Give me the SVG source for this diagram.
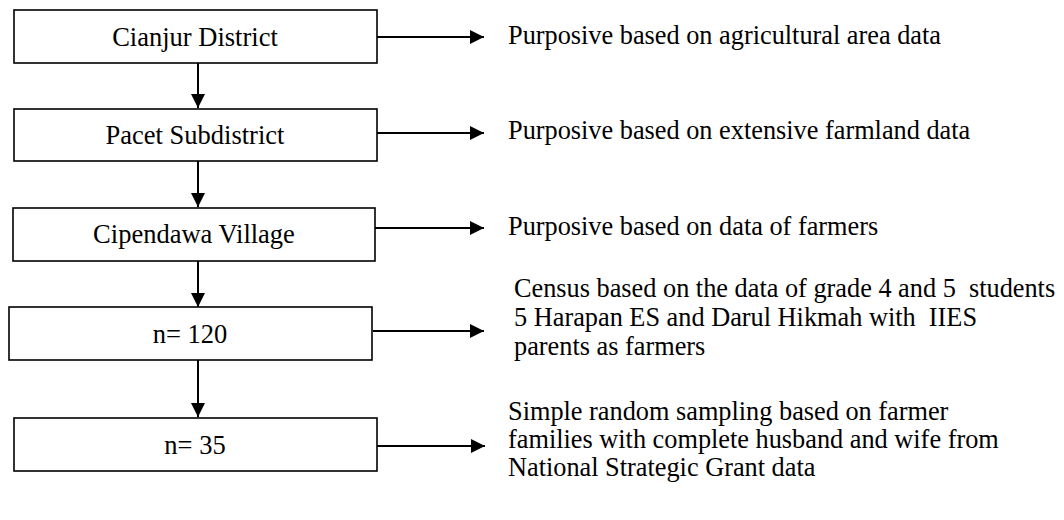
<svg xmlns="http://www.w3.org/2000/svg" width="1064" height="520" viewBox="0 0 1064 520">
<defs>
<marker id="ah" markerUnits="userSpaceOnUse" markerWidth="14" markerHeight="14" viewBox="0 0 14 14" refX="14" refY="7" orient="auto">
<path d="M0,0 L14,7 L0,14 Z" fill="#000"/>
</marker>
</defs>
<style>
.box{fill:#fff;stroke:#000;stroke-width:1.6}
.bt{font-family:"Liberation Serif","Times New Roman",serif;font-size:26.5px;fill:#000;text-anchor:middle}
.rt{font-family:"Liberation Serif","Times New Roman",serif;font-size:26.3px;fill:#000}
.c{stroke:#000;stroke-width:2;fill:none;marker-end:url(#ah)}
</style>
<rect width="1064" height="520" fill="#fff"/>
<g id="connectors">
<line class="c" x1="198" y1="63" x2="198" y2="108"/>
<line class="c" x1="198" y1="161" x2="198" y2="207"/>
<line class="c" x1="198" y1="261" x2="198" y2="307"/>
<line class="c" x1="198" y1="360" x2="198" y2="417"/>
<line class="c" x1="377" y1="37" x2="484" y2="37"/>
<line class="c" x1="377" y1="133" x2="484" y2="133"/>
<line class="c" x1="375" y1="228" x2="484" y2="228"/>
<line class="c" x1="373" y1="331" x2="484" y2="331"/>
<line class="c" x1="377" y1="446" x2="485" y2="446"/>
</g>
<g id="n1"><rect class="box" x="14" y="10" width="363" height="53"/><text class="bt" x="195" y="46">Cianjur District</text></g>
<g id="n2"><rect class="box" x="14" y="109" width="363" height="52"/><text class="bt" x="195" y="144">Pacet Subdistrict</text></g>
<g id="n3"><rect class="box" x="13" y="208" width="362" height="53"/><text class="bt" x="194" y="243">Cipendawa Village</text></g>
<g id="n4"><rect class="box" x="9" y="307" width="363" height="53"/><text class="bt" x="190" y="343">n= 120</text></g>
<g id="n5"><rect class="box" x="14" y="418" width="363" height="53"/><text class="bt" x="195" y="454">n= 35</text></g>
<g id="r1"><text class="rt" x="508" y="44">Purposive based on agricultural area data</text></g>
<g id="r2"><text class="rt" x="508" y="139">Purposive based on extensive farmland data</text></g>
<g id="r3"><text class="rt" x="508" y="235">Purposive based on data of farmers</text></g>
<g id="r4"><text class="rt" x="514" y="297" xml:space="preserve">Census based on the data of grade 4 and 5  students</text><text class="rt" x="514" y="326" xml:space="preserve">5 Harapan ES and Darul Hikmah with  IIES</text><text class="rt" x="514" y="355">parents as farmers</text></g>
<g id="r5"><text class="rt" x="508" y="420">Simple random sampling based on farmer</text><text class="rt" x="508" y="448">families with complete husband and wife from</text><text class="rt" x="508" y="476">National Strategic Grant data</text></g>
</svg>
